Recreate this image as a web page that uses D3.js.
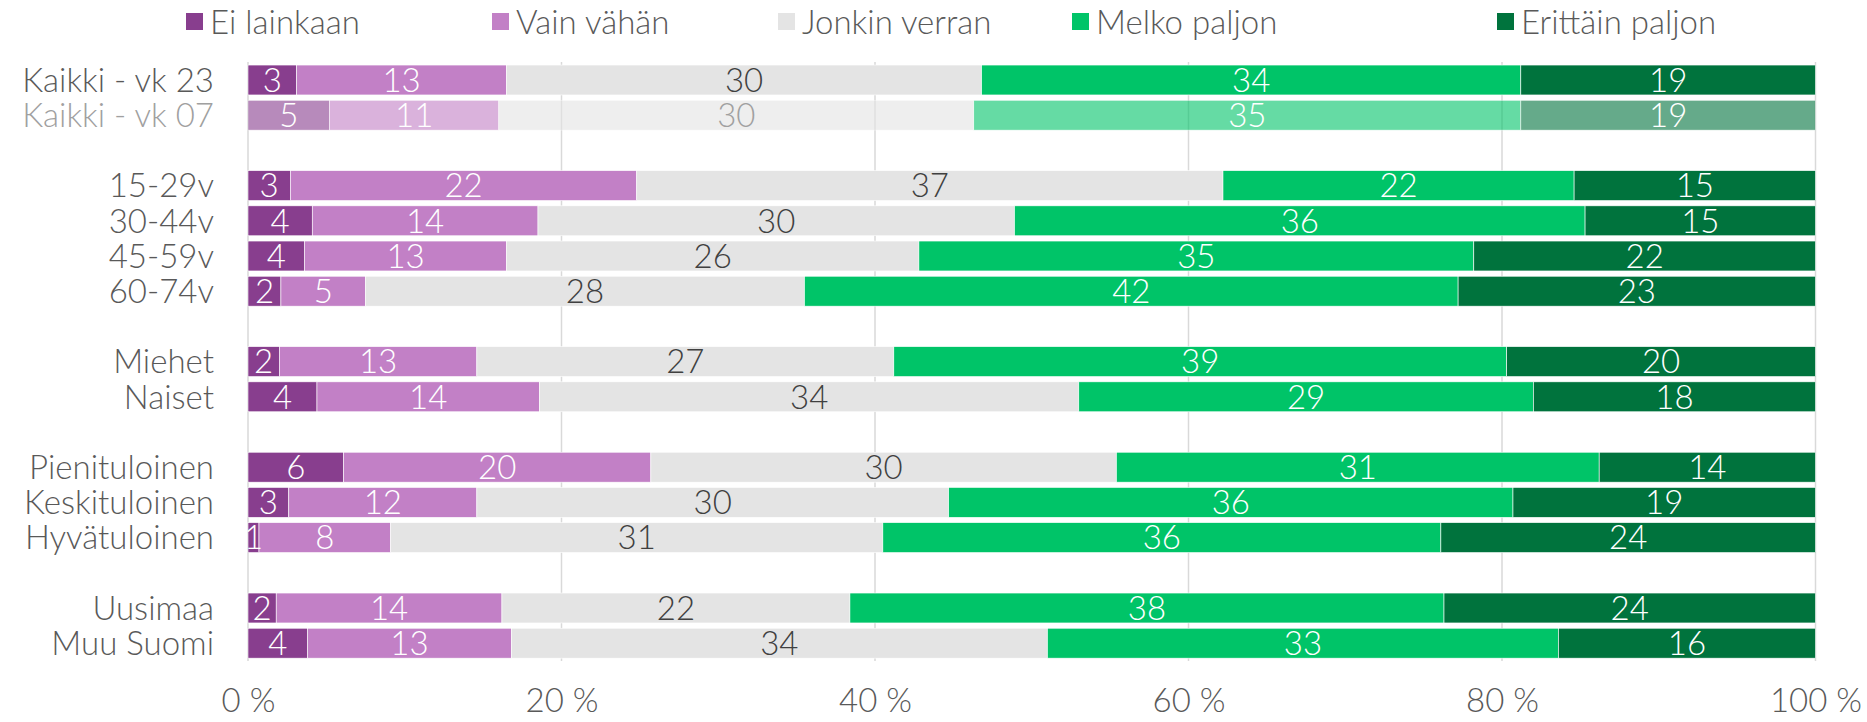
<!DOCTYPE html>
<html>
<head>
<meta charset="utf-8">
<script src="https://cdn.jsdelivr.net/npm/d3@7"></script>
<style>
  body { margin: 0; background: #fff; }
  svg text { font-family: Lato, "Open Sans", sans-serif; font-weight: 300; }
</style>
</head>
<body>
<div id="chart"></div>
<script>
// rows, top to bottom
const categories = ["Kaikki - vk 23", "Kaikki - vk 07", "15-29v", "30-44v", "45-59v", "60-74v",
  "Miehet", "Naiset", "Pienituloinen", "Keskituloinen", "Hyvätuloinen", "Uusimaa", "Muu Suomi"]
// empty slot after these rows
const gapAfter = ["Kaikki - vk 07", "60-74v", "Naiset", "Hyvätuloinen"]

const seriesNames = ["Ei lainkaan", "Vain vähän", "Jonkin verran", "Melko paljon", "Erittäin paljon"]
const eiLainkaan     = [3.1, 5.2, 2.7, 4.1, 3.6, 2.1, 2.0, 4.4, 6.1, 2.6, 0.7, 1.8, 3.8]
const vainVahan      = [13.4, 10.8, 22.1, 14.4, 12.9, 5.4, 12.6, 14.2, 19.6, 12.0, 8.4, 14.4, 13.0]
const jonkinVerran   = [30.3, 30.3, 37.4, 30.4, 26.3, 28.0, 26.6, 34.4, 29.7, 30.1, 31.4, 22.2, 34.2]
const melkoPaljon    = [34.4, 34.9, 22.4, 36.4, 35.4, 41.7, 39.1, 29.0, 30.8, 36.0, 35.6, 37.9, 32.6]
const erittainPaljon = [18.8, 18.8, 15.4, 14.7, 21.8, 22.8, 19.7, 18.0, 13.8, 19.3, 23.9, 23.7, 16.4]

const tickValues = [0, 0.2, 0.4, 0.6, 0.8, 1]
const tickLabels = ["0 %", "20 %", "40 %", "60 %", "80 %", "100 %"]

const colors = ["#883e8e", "#c280c6", "#e4e4e4", "#00c468", "#00733d"]
const labelColors = ["#fff", "#fff", "#404040", "#fff", "#fff"]
const fadedRow = "Kaikki - vk 07"

const width = 1867
const height = 722
const fontSize = 33

const allSeries = [eiLainkaan, vainVahan, jonkinVerran, melkoPaljon, erittainPaljon]
const rows = categories.map((c, i) => {
    const r = { name: c }
    seriesNames.forEach((s, j) => r[s] = allSeries[j][i])
    return r
})

// slots incl. blank rows between groups
const slots = []
categories.forEach((c, i) => {
    slots.push(c)
    if (gapAfter.includes(c)) slots.push("gap" + i)
})

const xScale = d3.scaleLinear().domain([0, 1]).range([248, 1815.5])
const yScale = d3.scaleBand().domain(slots).range([62.4, 660.8]).paddingInner(0.15).paddingOuter(0.075)

const stacked = d3.stack().keys(seriesNames).offset(d3.stackOffsetExpand)(rows)

const svg = d3.select("#chart").append("svg")
    .attr("width", width)
    .attr("height", height)

// grid
svg.append("g")
    .selectAll("line")
    .data(tickValues)
    .enter()
    .append("line")
    .attr("x1", d => xScale(d))
    .attr("x2", d => xScale(d))
    .attr("y1", 62)
    .attr("y2", 661)
    .attr("stroke", "#d9d9d9")
    .attr("stroke-width", 1.5)

// bars
const layers = svg.selectAll(".layer")
    .data(stacked)
    .enter()
    .append("g")
    .attr("class", "layer")
    .attr("fill", (d, i) => colors[i])

layers.selectAll("rect")
    .data(d => d)
    .enter()
    .append("rect")
    .attr("x", d => xScale(d[0]))
    .attr("y", d => yScale(d.data.name))
    .attr("width", d => xScale(d[1]) - xScale(d[0]))
    .attr("height", yScale.bandwidth())
    .attr("opacity", d => d.data.name == fadedRow ? 0.6 : 1)
    .attr("stroke", "#fff")
    .attr("stroke-width", 0.6)

// value labels
stacked.forEach((layer, i) => {
    svg.append("g")
        .selectAll("text")
        .data(layer)
        .enter()
        .append("text")
        .attr("x", d => (xScale(d[0]) + xScale(d[1])) / 2)
        .attr("y", d => yScale(d.data.name) + yScale.bandwidth() / 2)
        .attr("dy", "0.36em")
        .attr("text-anchor", "middle")
        .attr("font-size", fontSize)
        .attr("fill", d => (d.data.name == fadedRow && i == 2) ? "#a0a0a0" : labelColors[i])
        .text(d => Math.round(d.data[layer.key]))
})

// row labels
svg.append("g")
    .selectAll("text")
    .data(categories)
    .enter()
    .append("text")
    .attr("x", 214)
    .attr("y", d => yScale(d) + yScale.bandwidth() / 2)
    .attr("dy", "0.36em")
    .attr("text-anchor", "end")
    .attr("font-size", fontSize)
    .attr("fill", d => d == fadedRow ? "#a0a0a0" : "#595959")
    .text(d => d)

// x axis
const xAxis = d3.axisBottom(xScale)
    .tickValues(tickValues)
    .tickFormat((d, i) => tickLabels[i])
    .tickSize(0)
    .tickPadding(0)

const gx = svg.append("g")
    .attr("transform", "translate(0,689)")
    .call(xAxis)
gx.select(".domain").remove()
gx.selectAll("text")
    .attr("font-size", fontSize)
    .attr("fill", "#595959")
    .attr("font-family", "Lato, sans-serif")

// legend
const legendX = [186, 492, 778, 1072, 1497]
const legend = svg.append("g")
    .selectAll("g")
    .data(seriesNames)
    .enter()
    .append("g")
    .attr("transform", (d, i) => `translate(${legendX[i]},13)`)

legend.append("rect")
    .attr("width", 17)
    .attr("height", 17)
    .attr("fill", (d, i) => colors[i])

legend.append("text")
    .attr("x", 24)
    .attr("y", 9)
    .attr("dy", "0.36em")
    .attr("font-size", fontSize)
    .attr("fill", "#595959")
    .text(d => d)
</script>
</body>
</html>
